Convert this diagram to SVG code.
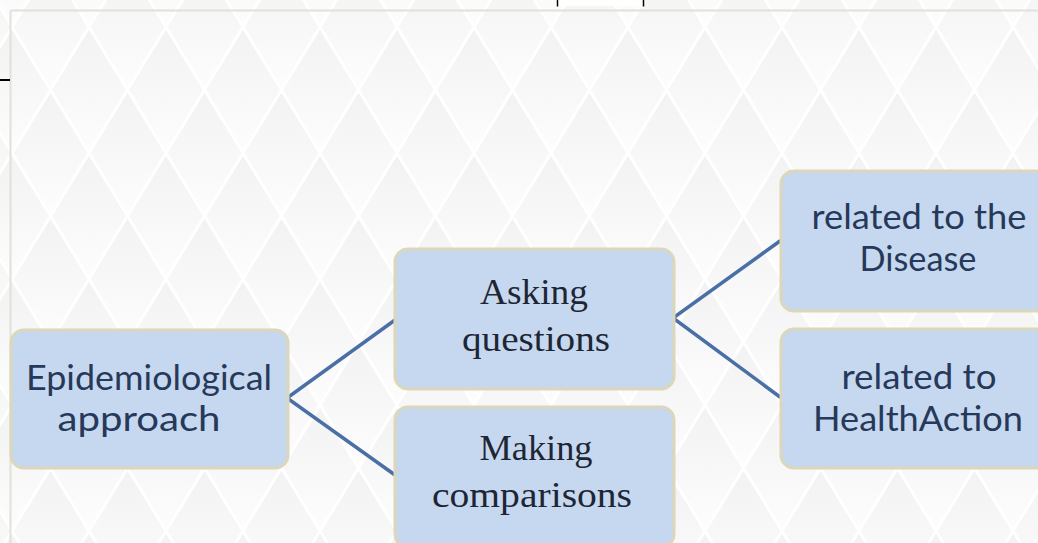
<svg xmlns="http://www.w3.org/2000/svg" width="1038" height="543" viewBox="0 0 1038 543">
  <style>
    .box { fill: #c6d8ef; stroke: #dcd6bb; stroke-width: 3; }
    .sans { font-family: Lato, "Open Sans", "Liberation Sans", sans-serif; font-size: 34px; fill: #27395a; text-anchor: middle; }
    .serif { font-family: "Liberation Serif", "DejaVu Serif", serif; font-size: 35px; fill: #1e2635; text-anchor: middle; }
    .link { fill: none; stroke: #4a6ea6; stroke-width: 3.5; stroke-linecap: round; stroke-linejoin: miter; }
  </style>
  <defs>
    <linearGradient id="diamondShade" x1="0" y1="0" x2="0" y2="1">
      <stop offset="0" stop-color="#f2f2f2"/>
      <stop offset="1" stop-color="#fdfdfd"/>
    </linearGradient>
    <!-- harlequin backdrop: shaded diamonds split by thin white diagonals -->
    <pattern id="harlequin" patternUnits="userSpaceOnUse" x="12" y="27" width="77" height="126">
      <rect width="77" height="126" fill="#fafafa"/>
      <polygon points="38.5,-63 77,0 38.5,63 0,0" fill="url(#diamondShade)"/>
      <polygon points="0,0 38.5,63 0,126 -38.5,63" fill="url(#diamondShade)"/>
      <polygon points="77,0 115.5,63 77,126 38.5,63" fill="url(#diamondShade)"/>
      <polygon points="38.5,63 77,126 38.5,189 0,126" fill="url(#diamondShade)"/>
      <path d="M0,0 L77,126 M77,0 L0,126" stroke="#ffffff" stroke-width="3" fill="none"/>
    </pattern>
  </defs>

  <!-- backdrop -->
  <rect x="0" y="0" width="1038" height="543" fill="url(#harlequin)"/>

  <!-- slide frame edges -->
  <line x1="10.5" y1="10.5" x2="1038" y2="10.5" stroke="#e2e1d8" stroke-width="2"/>
  <line x1="10.5" y1="10.5" x2="10.5" y2="543" stroke="#e2e1d8" stroke-width="2"/>

  <!-- top tab and side tick -->
  <rect x="557" y="0" width="87" height="6" fill="#ffffff"/>
  <line x1="557.5" y1="0" x2="557.5" y2="6.5" stroke="#000000" stroke-width="1.5"/>
  <line x1="643.5" y1="0" x2="643.5" y2="6.5" stroke="#000000" stroke-width="1.5"/>
  <line x1="0" y1="80" x2="10" y2="80" stroke="#000000" stroke-width="2"/>

  <!-- connectors -->
  <g id="connectors">
    <polyline class="link" points="395,320 287,398 395,475"/>
    <polyline class="link" points="780,241 673,318 780,397"/>
  </g>

  <!-- nodes -->
  <g id="node-epidemiological">
    <rect class="box" x="11" y="330" width="277" height="138" rx="13"/>
    <text class="sans" x="149" y="390" textLength="246" lengthAdjust="spacingAndGlyphs">Epidemiological</text>
    <text class="sans" x="139" y="431" textLength="163" lengthAdjust="spacingAndGlyphs">approach</text>
  </g>

  <g id="node-asking">
    <rect class="box" x="395" y="249" width="279" height="140" rx="13"/>
    <text class="serif" x="534" y="304" textLength="108" lengthAdjust="spacingAndGlyphs">Asking</text>
    <text class="serif" x="536" y="351" textLength="148" lengthAdjust="spacingAndGlyphs">questions</text>
  </g>

  <g id="node-making">
    <rect class="box" x="395" y="407" width="279" height="140" rx="13"/>
    <text class="serif" x="536" y="460" textLength="113" lengthAdjust="spacingAndGlyphs">Making</text>
    <text class="serif" x="532" y="507" textLength="200" lengthAdjust="spacingAndGlyphs">comparisons</text>
  </g>

  <g id="node-disease">
    <rect class="box" x="781" y="171" width="279" height="140" rx="13"/>
    <text class="sans" x="919" y="229" textLength="215" lengthAdjust="spacingAndGlyphs">related to the</text>
    <text class="sans" x="918" y="271" textLength="117" lengthAdjust="spacingAndGlyphs">Disease</text>
  </g>

  <g id="node-health-action">
    <rect class="box" x="781" y="329" width="279" height="139" rx="13"/>
    <text class="sans" x="919" y="389" textLength="155" lengthAdjust="spacingAndGlyphs">related to</text>
    <text class="sans" x="918" y="431" textLength="210" lengthAdjust="spacingAndGlyphs">HealthAction</text>
  </g>
</svg>
